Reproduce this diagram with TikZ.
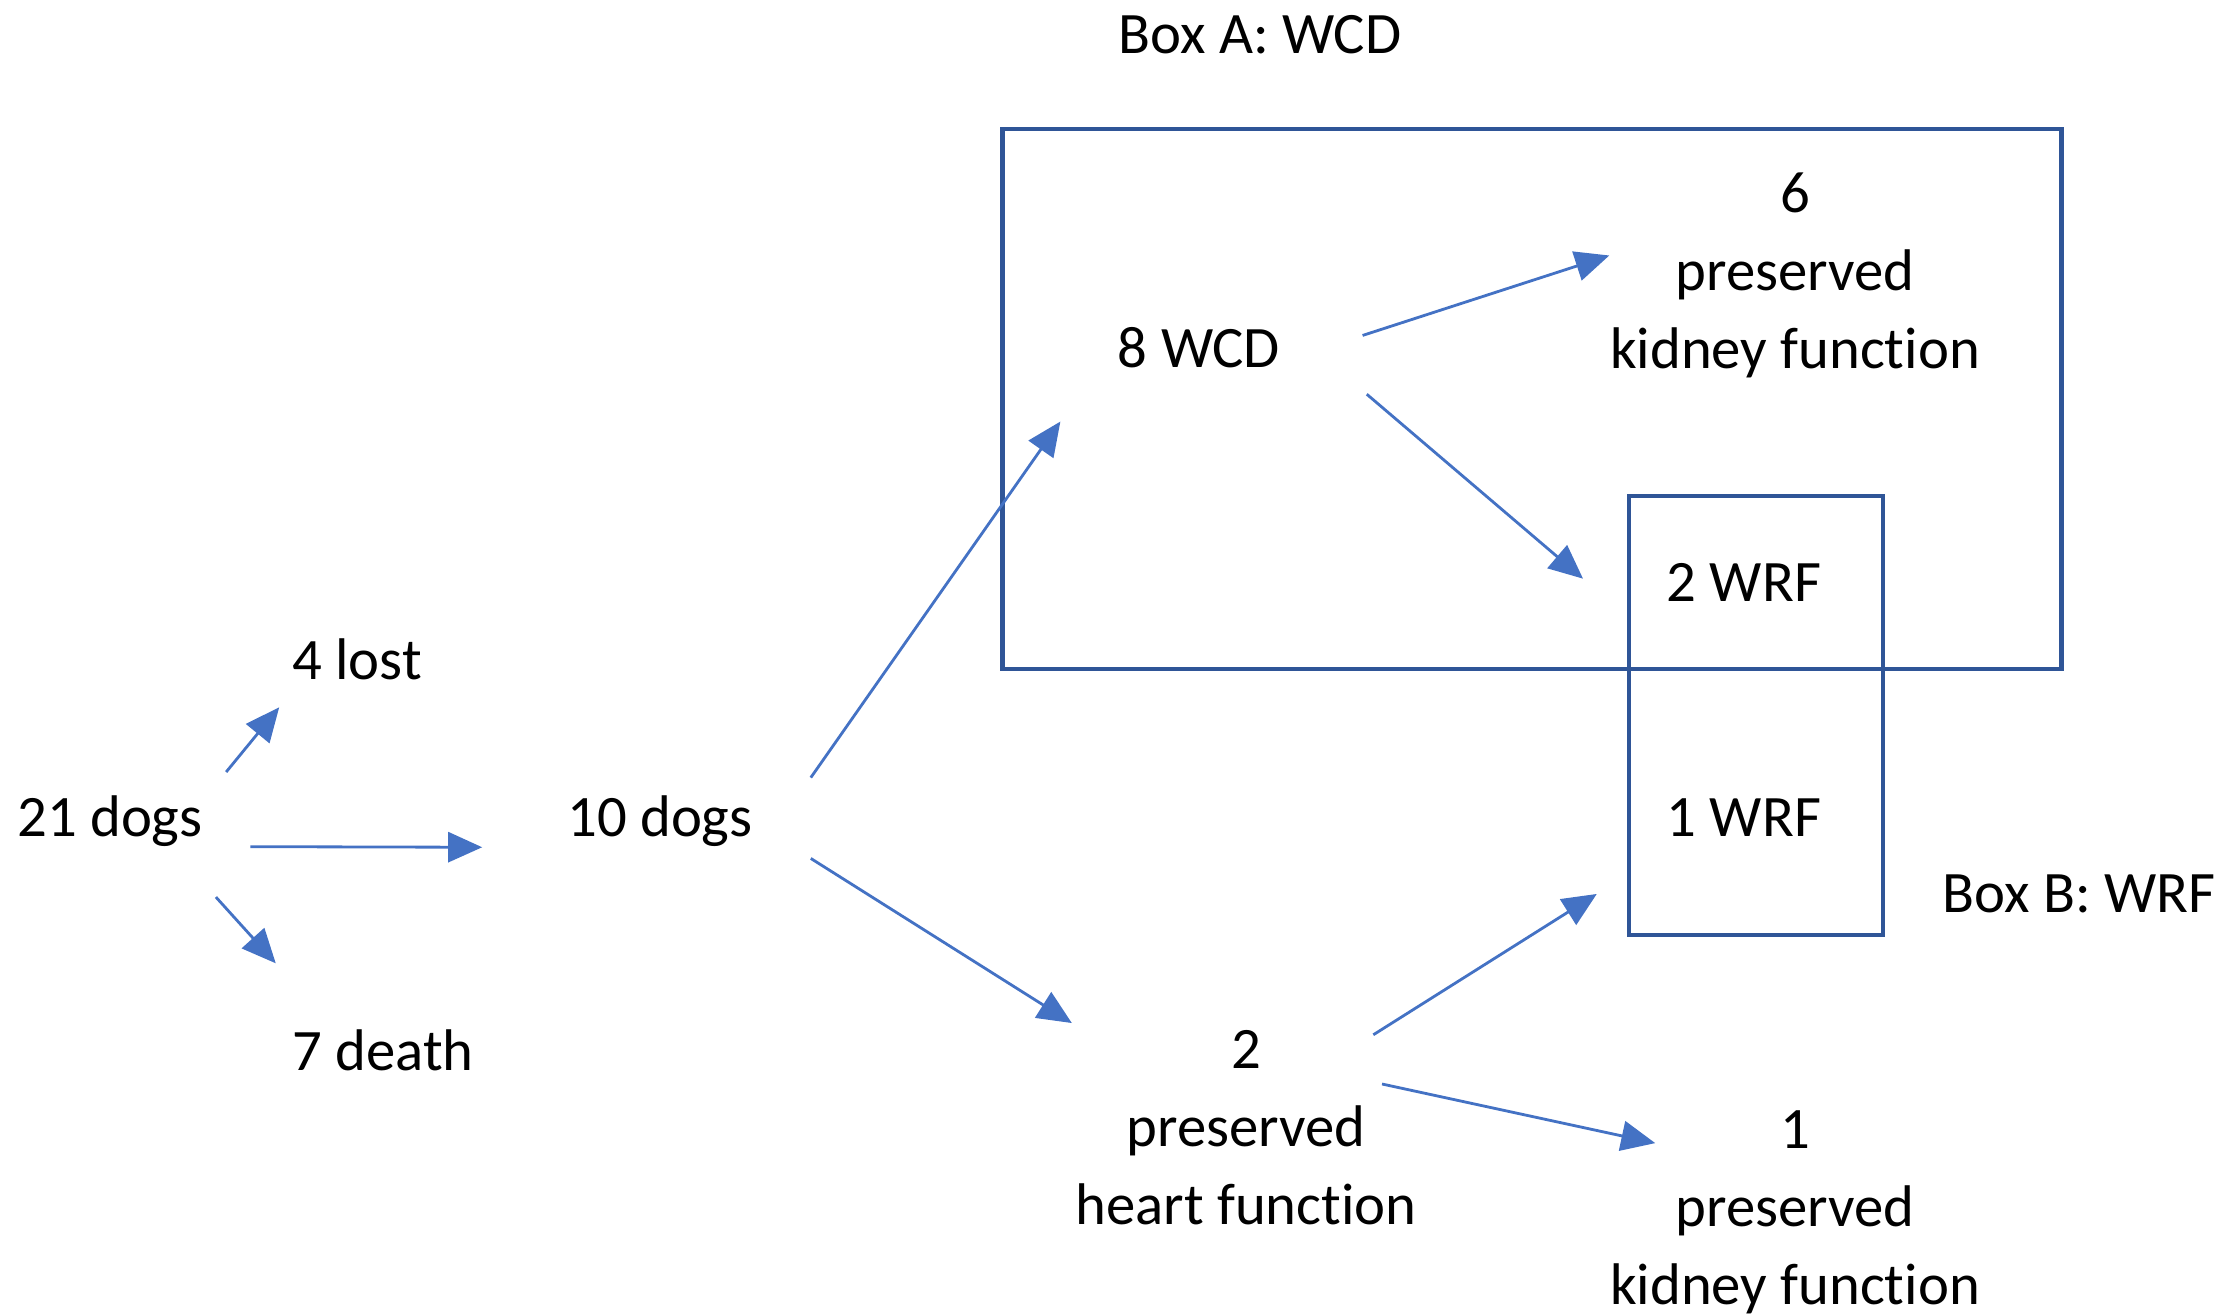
\documentclass[tikz,border=0pt]{standalone}
\usepackage{fontspec}
\setmainfont{Carlito}[Ligatures=NoCommon]
\usetikzlibrary{arrows.meta}
\definecolor{arrowc}{HTML}{4472C4}
\definecolor{boxc}{HTML}{2F5597}

\begin{document}
\begin{tikzpicture}[x=0.01cm, y=-0.01cm,
    lbl/.style={inner sep=0pt, font=\fontsize{16.7}{22.2}\selectfont, text height=13.7pt, text depth=3pt},
    multi/.style={inner sep=0pt, align=center, font=\fontsize{16.7}{22.2}\selectfont},
    flow/.style={arrowc, line width=0.8pt, -{Triangle[length=0.34cm, width=0.3cm]}},
    grp/.style={draw=boxc, line width=1.3pt, inner sep=0pt}]
    \useasboundingbox (0,0) rectangle (2227,1314);
    \node[grp, minimum width=10.58cm, minimum height=5.40cm] (boxA) at (1532,399) {};
    \node[grp, minimum width=2.54cm, minimum height=4.39cm] (boxB) at (1756,715.5) {};
    \node[lbl] (boxAlbl) at (1260,35) {Box A: WCD};
    \node[lbl] (boxBlbl) at (2079,894) {Box B: WRF};
    \node[lbl] (dogs21) at (110,818) {21 dogs};
    \node[lbl] (lost) at (357,661) {4 lost};
    \node[lbl] (death) at (383,1052) {7 death};
    \node[lbl, minimum width=3cm, minimum height=0.9cm] (dogs10) at (660,818) {10 dogs};
    \node[lbl] (wcd8) at (1199,349) {8 WCD};
    \node[multi] (kid6) at (1795,275) {6\\preserved\\kidney function};
    \node[lbl, minimum width=2.6cm] (wrf2) at (1744,583) {2 WRF};
    \node[lbl, minimum width=2.6cm] (wrf1) at (1744,818) {1 WRF};
    \node[multi] (heart2) at (1246,1128) {2\\preserved\\heart function};
    \node[multi] (kid1) at (1795,1212) {1\\preserved\\kidney function};
    \draw[flow, shorten <=0.36cm, shorten >=0.21cm] (dogs21.11) -- (lost.205);
    \draw[flow, shorten <=0.47cm, shorten >=0.27cm] (dogs21.-17) -- (dogs10.191);
    \draw[flow, shorten <=0.66cm, shorten >=0.79cm] (dogs21.-26) -- (death.151);
    \draw[flow, shorten >=0.99cm] (dogs10.15) -- (wcd8.174);
    \draw[flow, shorten >=0.13cm] (dogs10.-15) -- (heart2.149);
    \draw[flow, shorten <=0.86cm] (wcd8.-9) -- (kid6.174);
    \draw[flow, shorten <=1.13cm, shorten >=0.53cm] (wcd8.19) -- (wrf2.194);
    \draw[flow, shorten <=-0.09cm, shorten >=0.86cm] (heart2.36) -- (wrf1.202);
    \draw[flow, shorten <=-0.36cm, shorten >=-0.47cm] (heart2.12) -- (kid1.157);
  \end{tikzpicture}
\end{document}
